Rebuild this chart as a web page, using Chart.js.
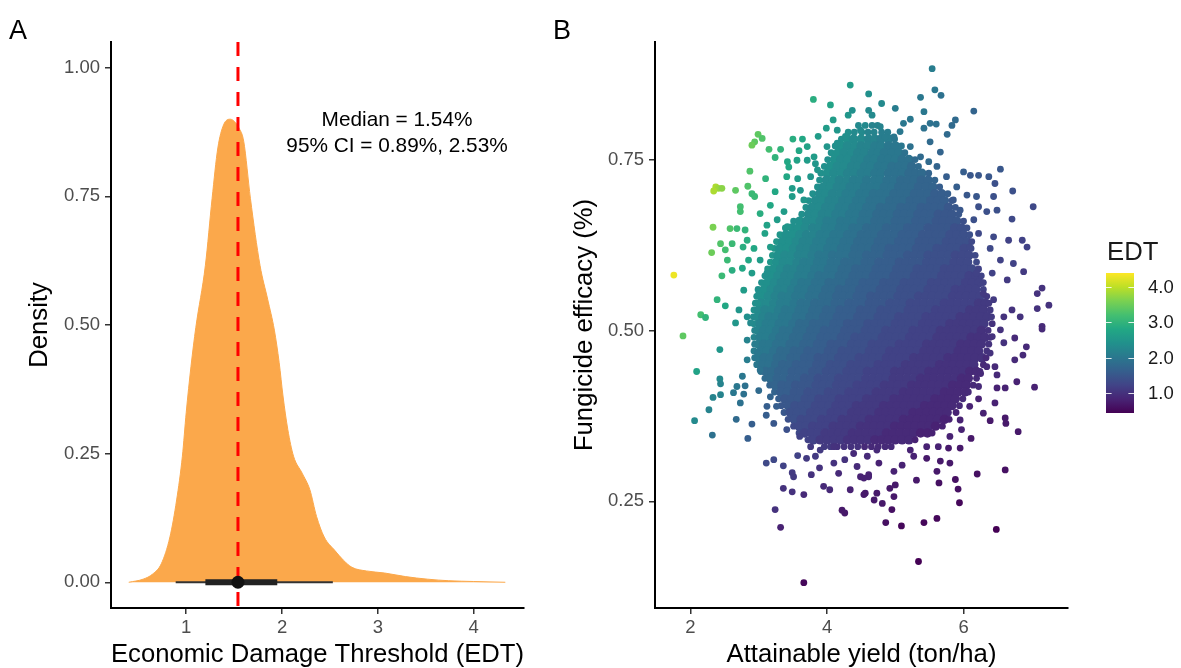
<!DOCTYPE html>
<html>
<head>
<meta charset="utf-8">
<script src="https://cdn.jsdelivr.net/npm/chart.js@4.4.1/dist/chart.umd.min.js"></script>
<style>
html, body { margin: 0; padding: 0; background: #fff; }
#wrap { position: relative; width: 1181px; height: 668px; overflow: hidden; }
.panel { position: absolute; top: 0; height: 668px; }
#pa { left: 0; width: 545px; }
#pb { left: 545px; width: 636px; }
</style>
</head>
<body>
<div id="wrap">
  <div class="panel" id="pa"><canvas id="ca"></canvas></div>
  <div class="panel" id="pb"><canvas id="cb"></canvas></div>
</div>
<script>
// ---- panel A : density of the EDT ----
const densX = [0.40, 0.55, 0.65, 0.74, 0.83, 0.90, 0.96, 1.00, 1.05, 1.10, 1.20, 1.27, 1.33, 1.39, 1.46, 1.50, 1.55, 1.60, 1.67, 1.77,
               1.85, 1.92, 1.97, 2.01, 2.06, 2.12, 2.21, 2.29, 2.36, 2.44, 2.55, 2.64, 2.73, 2.88, 3.07, 3.29, 3.52, 3.74, 4.00, 4.33];
const densY = [0.000, 0.006, 0.016, 0.036, 0.088, 0.160, 0.245, 0.330, 0.420, 0.495, 0.616, 0.746, 0.844, 0.889, 0.900, 0.896, 0.883, 0.857, 0.746, 0.616,
               0.550, 0.490, 0.427, 0.362, 0.297, 0.245, 0.212, 0.180, 0.128, 0.088, 0.062, 0.043, 0.029, 0.022, 0.018, 0.011, 0.006, 0.003, 0.0015, 0.000];
const edtMedian = 1.54;
const ci95 = [0.89, 2.53];
const ci66 = [1.20, 1.95];
const annLines = ['Median = 1.54%', '95% CI = 0.89%, 2.53%'];
const annX = 3.2;
const annY = [0.898, 0.847];
const xTicksA = [1, 2, 3, 4];
const yTicksA = [0, 0.25, 0.5, 0.75, 1];

// ---- panel B : yield vs efficacy, coloured by EDT ----
const xTicksB = [2, 4, 6];
const yTicksB = [0.25, 0.5, 0.75];
const legendTicks = [1, 2, 3, 4];
const edtRange = [0.43, 4.40];

// dense core, read row by row: [efficacy, yields, EDT]
const coreRows = [
  [0.80, '4.46 4.56 4.66 4.74', '2.3 2.3 2.2 2.2'],
  [0.79, '4.31 4.40 4.51 4.60 4.69 4.80 4.89', '2.4 2.3 2.3 2.2 2.2 2.1 2.1'],
  [0.78, '4.21 4.30 4.39 4.50 4.61 4.70 4.79 4.90 4.99', '2.4 2.4 2.3 2.3 2.2 2.2 2.1 2.1 2.0'],
  [0.77, '4.12 4.21 4.30 4.41 4.50 4.59 4.70 4.79 4.90 5.00 5.09', '2.4 2.4 2.3 2.3 2.2 2.2 2.1 2.1 2.0 2.0 2.0'],
  [0.76, '4.06 4.16 4.25 4.36 4.45 4.55 4.66 4.75 4.84 4.95 5.05 5.14', '2.4 2.4 2.3 2.3 2.2 2.2 2.1 2.1 2.0 2.0 2.0 1.9'],
  [0.75, '4.01 4.11 4.20 4.30 4.41 4.50 4.60 4.69 4.80 4.90 5.00 5.10 5.20 5.29', '2.4 2.4 2.3 2.3 2.2 2.2 2.1 2.1 2.0 2.0 2.0 1.9 1.9 1.8'],
  [0.74, '3.96 4.05 4.15 4.25 4.36 4.45 4.55 4.64 4.75 4.85 4.95 5.05 5.15 5.24 5.34', '2.4 2.4 2.3 2.3 2.2 2.2 2.1 2.1 2.0 2.0 1.9 1.9 1.9 1.8 1.8'],
  [0.73, '3.91 4.00 4.10 4.21 4.30 4.40 4.50 4.60 4.70 4.79 4.90 5.00 5.10 5.20 5.30 5.39 5.49', '2.4 2.4 2.3 2.3 2.2 2.2 2.1 2.1 2.0 2.0 1.9 1.9 1.9 1.8 1.8 1.8 1.7'],
  [0.72, '3.89 3.99 4.09 4.18 4.29 4.39 4.48 4.58 4.69 4.78 4.88 4.98 5.08 5.18 5.28 5.38 5.48 5.58', '2.4 2.3 2.3 2.2 2.2 2.1 2.1 2.0 2.0 2.0 1.9 1.9 1.8 1.8 1.8 1.7 1.7 1.7'],
  [0.71, '3.86 3.95 4.05 4.15 4.25 4.34 4.45 4.55 4.64 4.74 4.84 4.95 5.05 5.14 5.24 5.34 5.45 5.55 5.65', '2.4 2.3 2.3 2.2 2.2 2.1 2.1 2.0 2.0 2.0 1.9 1.9 1.8 1.8 1.8 1.7 1.7 1.7 1.6'],
  [0.70, '3.79 3.89 3.98 4.08 4.19 4.28 4.38 4.48 4.58 4.68 4.78 4.88 4.98 5.08 5.18 5.28 5.38 5.48 5.58 5.68 5.77', '2.4 2.3 2.3 2.2 2.2 2.1 2.1 2.0 2.0 1.9 1.9 1.9 1.8 1.8 1.8 1.7 1.7 1.7 1.6 1.6 1.6'],
  [0.69, '3.73 3.83 3.93 4.03 4.13 4.23 4.32 4.43 4.53 4.63 4.72 4.83 4.92 5.02 5.12 5.22 5.32 5.42 5.52 5.62 5.72 5.83', '2.4 2.3 2.3 2.2 2.2 2.1 2.1 2.0 2.0 1.9 1.9 1.9 1.8 1.8 1.8 1.7 1.7 1.7 1.6 1.6 1.6 1.5'],
  [0.68, '3.69 3.78 3.88 3.98 4.08 4.18 4.28 4.38 4.48 4.58 4.68 4.78 4.88 4.98 5.08 5.18 5.28 5.38 5.48 5.58 5.68 5.78 5.88', '2.4 2.3 2.3 2.2 2.2 2.1 2.1 2.0 2.0 1.9 1.9 1.8 1.8 1.8 1.7 1.7 1.7 1.6 1.6 1.6 1.6 1.5 1.5'],
  [0.67, '3.63 3.73 3.83 3.93 4.03 4.13 4.23 4.33 4.43 4.53 4.63 4.73 4.83 4.93 5.03 5.13 5.23 5.33 5.43 5.53 5.63 5.73 5.83 5.93', '2.4 2.3 2.3 2.2 2.2 2.1 2.1 2.0 2.0 1.9 1.9 1.8 1.8 1.8 1.7 1.7 1.7 1.6 1.6 1.6 1.5 1.5 1.5 1.5'],
  [0.66, '3.51 3.60 3.70 3.80 3.90 4.00 4.10 4.20 4.30 4.40 4.50 4.60 4.70 4.80 4.90 5.00 5.10 5.20 5.30 5.40 5.50 5.60 5.70 5.80 5.90 6.00', '2.4 2.4 2.3 2.3 2.2 2.1 2.1 2.0 2.0 2.0 1.9 1.9 1.8 1.8 1.8 1.7 1.7 1.7 1.6 1.6 1.6 1.5 1.5 1.5 1.5 1.4'],
  [0.65, '3.39 3.49 3.58 3.68 3.79 3.88 3.98 4.08 4.18 4.28 4.38 4.47 4.58 4.68 4.78 4.87 4.98 5.08 5.18 5.28 5.37 5.48 5.58 5.68 5.78 5.87 5.97 6.05', '2.5 2.4 2.4 2.3 2.2 2.2 2.1 2.1 2.0 2.0 1.9 1.9 1.8 1.8 1.8 1.7 1.7 1.7 1.6 1.6 1.6 1.5 1.5 1.5 1.5 1.4 1.4 1.4'],
  [0.64, '3.31 3.40 3.50 3.60 3.70 3.80 3.90 4.00 4.10 4.20 4.30 4.40 4.50 4.60 4.70 4.80 4.90 5.00 5.10 5.20 5.30 5.40 5.50 5.60 5.70 5.80 5.90 6.00 6.09', '2.5 2.4 2.4 2.3 2.2 2.2 2.1 2.1 2.0 2.0 1.9 1.9 1.8 1.8 1.8 1.7 1.7 1.7 1.6 1.6 1.6 1.5 1.5 1.5 1.5 1.4 1.4 1.4 1.4'],
  [0.63, '3.26 3.35 3.45 3.55 3.65 3.75 3.85 3.95 4.05 4.15 4.25 4.35 4.45 4.55 4.65 4.75 4.85 4.95 5.05 5.15 5.25 5.35 5.45 5.55 5.65 5.75 5.85 5.95 6.05 6.12', '2.5 2.4 2.4 2.3 2.2 2.2 2.1 2.1 2.0 2.0 1.9 1.9 1.8 1.8 1.8 1.7 1.7 1.7 1.6 1.6 1.6 1.5 1.5 1.5 1.5 1.4 1.4 1.4 1.4 1.3'],
  [0.62, '3.23 3.31 3.41 3.51 3.61 3.71 3.81 3.91 4.01 4.11 4.21 4.31 4.41 4.51 4.61 4.71 4.81 4.91 5.01 5.11 5.21 5.31 5.41 5.51 5.61 5.71 5.81 5.91 6.01 6.11', '2.5 2.4 2.4 2.3 2.2 2.2 2.1 2.1 2.0 2.0 1.9 1.9 1.8 1.8 1.8 1.7 1.7 1.6 1.6 1.6 1.6 1.5 1.5 1.5 1.4 1.4 1.4 1.4 1.3 1.3'],
  [0.61, '3.20 3.28 3.38 3.48 3.58 3.68 3.78 3.88 3.98 4.08 4.18 4.28 4.38 4.48 4.58 4.68 4.78 4.88 4.98 5.08 5.18 5.28 5.38 5.48 5.58 5.68 5.78 5.88 5.98 6.08 6.17', '2.5 2.4 2.3 2.3 2.2 2.2 2.1 2.0 2.0 1.9 1.9 1.9 1.8 1.8 1.7 1.7 1.7 1.6 1.6 1.6 1.5 1.5 1.5 1.4 1.4 1.4 1.4 1.3 1.3 1.3 1.3'],
  [0.60, '3.17 3.26 3.36 3.46 3.56 3.66 3.76 3.86 3.96 4.06 4.16 4.26 4.36 4.46 4.56 4.66 4.76 4.86 4.96 5.06 5.16 5.26 5.36 5.46 5.56 5.66 5.76 5.86 5.96 6.06 6.19', '2.5 2.4 2.3 2.3 2.2 2.1 2.1 2.0 2.0 1.9 1.9 1.8 1.8 1.8 1.7 1.7 1.6 1.6 1.6 1.5 1.5 1.5 1.5 1.4 1.4 1.4 1.4 1.3 1.3 1.3 1.3'],
  [0.59, '3.13 3.22 3.32 3.42 3.52 3.62 3.72 3.82 3.92 4.02 4.12 4.22 4.32 4.42 4.52 4.62 4.72 4.82 4.92 5.02 5.12 5.22 5.32 5.42 5.52 5.62 5.72 5.82 5.92 6.02 6.12 6.22', '2.5 2.4 2.3 2.2 2.2 2.1 2.1 2.0 2.0 1.9 1.9 1.8 1.8 1.7 1.7 1.7 1.6 1.6 1.6 1.5 1.5 1.5 1.4 1.4 1.4 1.4 1.3 1.3 1.3 1.3 1.3 1.2'],
  [0.58, '3.09 3.18 3.28 3.38 3.48 3.58 3.68 3.78 3.88 3.98 4.08 4.18 4.28 4.38 4.48 4.58 4.68 4.78 4.88 4.98 5.08 5.18 5.28 5.38 5.48 5.58 5.68 5.78 5.88 5.98 6.08 6.18 6.26', '2.4 2.4 2.3 2.2 2.2 2.1 2.1 2.0 1.9 1.9 1.9 1.8 1.8 1.7 1.7 1.7 1.6 1.6 1.6 1.5 1.5 1.5 1.4 1.4 1.4 1.4 1.3 1.3 1.3 1.3 1.2 1.2 1.2'],
  [0.57, '3.04 3.13 3.23 3.33 3.43 3.53 3.63 3.73 3.83 3.93 4.03 4.13 4.23 4.33 4.43 4.53 4.63 4.73 4.83 4.93 5.03 5.13 5.23 5.33 5.43 5.53 5.63 5.73 5.83 5.93 6.03 6.13 6.23 6.29', '2.4 2.4 2.3 2.2 2.2 2.1 2.0 2.0 1.9 1.9 1.8 1.8 1.8 1.7 1.7 1.6 1.6 1.6 1.5 1.5 1.5 1.4 1.4 1.4 1.4 1.3 1.3 1.3 1.3 1.3 1.2 1.2 1.2 1.2'],
  [0.56, '2.99 3.08 3.18 3.28 3.38 3.48 3.58 3.68 3.78 3.88 3.98 4.08 4.18 4.28 4.38 4.48 4.58 4.68 4.78 4.88 4.98 5.08 5.18 5.28 5.38 5.48 5.58 5.68 5.78 5.88 5.98 6.08 6.18 6.29', '2.4 2.4 2.3 2.2 2.2 2.1 2.0 2.0 1.9 1.9 1.8 1.8 1.7 1.7 1.7 1.6 1.6 1.6 1.5 1.5 1.5 1.4 1.4 1.4 1.4 1.3 1.3 1.3 1.3 1.2 1.2 1.2 1.2 1.2'],
  [0.55, '2.97 3.04 3.14 3.24 3.34 3.44 3.54 3.64 3.74 3.84 3.94 4.04 4.14 4.24 4.34 4.44 4.54 4.64 4.74 4.84 4.94 5.04 5.14 5.24 5.34 5.44 5.54 5.64 5.74 5.84 5.94 6.04 6.14 6.24 6.34', '2.4 2.4 2.3 2.2 2.1 2.1 2.0 2.0 1.9 1.9 1.8 1.8 1.7 1.7 1.7 1.6 1.6 1.5 1.5 1.5 1.5 1.4 1.4 1.4 1.3 1.3 1.3 1.3 1.3 1.2 1.2 1.2 1.2 1.2 1.1'],
  [0.54, '2.95 3.03 3.12 3.22 3.32 3.42 3.52 3.62 3.72 3.82 3.92 4.02 4.12 4.22 4.32 4.42 4.52 4.62 4.72 4.82 4.92 5.02 5.12 5.22 5.32 5.42 5.52 5.62 5.72 5.82 5.92 6.02 6.12 6.22 6.32 6.37', '2.4 2.3 2.3 2.2 2.1 2.1 2.0 1.9 1.9 1.8 1.8 1.8 1.7 1.7 1.6 1.6 1.6 1.5 1.5 1.5 1.4 1.4 1.4 1.3 1.3 1.3 1.3 1.3 1.2 1.2 1.2 1.2 1.2 1.1 1.1 1.1'],
  [0.53, '2.93 3.00 3.09 3.19 3.29 3.39 3.49 3.59 3.69 3.79 3.89 3.99 4.09 4.19 4.29 4.39 4.49 4.59 4.69 4.79 4.89 4.99 5.09 5.19 5.29 5.39 5.49 5.59 5.69 5.79 5.89 5.99 6.09 6.19 6.29 6.39', '2.4 2.3 2.2 2.2 2.1 2.0 2.0 1.9 1.9 1.8 1.8 1.7 1.7 1.6 1.6 1.6 1.5 1.5 1.5 1.4 1.4 1.4 1.4 1.3 1.3 1.3 1.3 1.2 1.2 1.2 1.2 1.2 1.1 1.1 1.1 1.1'],
  [0.52, '2.92 2.98 3.06 3.15 3.25 3.35 3.45 3.55 3.65 3.75 3.85 3.95 4.05 4.15 4.25 4.35 4.45 4.55 4.65 4.75 4.85 4.95 5.05 5.15 5.25 5.35 5.45 5.55 5.65 5.75 5.85 5.95 6.05 6.15 6.25 6.35 6.41', '2.3 2.3 2.2 2.1 2.1 2.0 2.0 1.9 1.9 1.8 1.8 1.7 1.7 1.6 1.6 1.6 1.5 1.5 1.5 1.4 1.4 1.4 1.3 1.3 1.3 1.3 1.2 1.2 1.2 1.2 1.2 1.1 1.1 1.1 1.1 1.1 1.1'],
  [0.51, '2.93 3.02 3.11 3.20 3.30 3.40 3.50 3.60 3.70 3.80 3.90 4.00 4.10 4.20 4.30 4.40 4.50 4.60 4.70 4.80 4.90 5.00 5.10 5.20 5.30 5.40 5.50 5.60 5.70 5.80 5.90 6.00 6.10 6.20 6.30 6.42', '2.3 2.2 2.1 2.1 2.0 2.0 1.9 1.8 1.8 1.7 1.7 1.7 1.6 1.6 1.5 1.5 1.5 1.4 1.4 1.4 1.4 1.3 1.3 1.3 1.3 1.2 1.2 1.2 1.2 1.1 1.1 1.1 1.1 1.1 1.1 1.0'],
  [0.50, '2.94 2.99 3.07 3.16 3.26 3.36 3.46 3.56 3.66 3.76 3.86 3.96 4.06 4.16 4.26 4.36 4.46 4.56 4.66 4.76 4.86 4.96 5.06 5.16 5.26 5.36 5.46 5.56 5.66 5.76 5.86 5.96 6.06 6.16 6.26 6.36', '2.2 2.2 2.1 2.1 2.0 1.9 1.9 1.8 1.8 1.7 1.7 1.6 1.6 1.6 1.5 1.5 1.5 1.4 1.4 1.4 1.3 1.3 1.3 1.3 1.2 1.2 1.2 1.2 1.1 1.1 1.1 1.1 1.1 1.1 1.0 1.0'],
  [0.49, '2.93 3.02 3.11 3.21 3.31 3.41 3.51 3.61 3.71 3.81 3.91 4.01 4.11 4.21 4.31 4.41 4.51 4.61 4.71 4.81 4.91 5.01 5.11 5.21 5.31 5.41 5.51 5.61 5.71 5.81 5.91 6.01 6.11 6.21 6.31 6.39', '2.2 2.1 2.1 2.0 1.9 1.9 1.8 1.8 1.7 1.7 1.6 1.6 1.6 1.5 1.5 1.4 1.4 1.4 1.4 1.3 1.3 1.3 1.3 1.2 1.2 1.2 1.2 1.1 1.1 1.1 1.1 1.1 1.0 1.0 1.0 1.0'],
  [0.48, '2.94 3.00 3.07 3.16 3.26 3.36 3.46 3.56 3.66 3.76 3.86 3.96 4.06 4.16 4.26 4.36 4.46 4.56 4.66 4.76 4.86 4.96 5.06 5.16 5.26 5.36 5.46 5.56 5.66 5.76 5.86 5.96 6.06 6.16 6.26 6.37', '2.1 2.1 2.0 2.0 1.9 1.9 1.8 1.8 1.7 1.7 1.6 1.6 1.5 1.5 1.5 1.4 1.4 1.4 1.3 1.3 1.3 1.3 1.2 1.2 1.2 1.2 1.1 1.1 1.1 1.1 1.1 1.0 1.0 1.0 1.0 1.0'],
  [0.47, '2.93 3.03 3.12 3.22 3.32 3.42 3.52 3.62 3.72 3.82 3.92 4.02 4.12 4.22 4.32 4.42 4.52 4.62 4.72 4.82 4.92 5.02 5.12 5.22 5.32 5.42 5.52 5.62 5.72 5.82 5.92 6.02 6.12 6.22 6.34', '2.1 2.0 2.0 1.9 1.8 1.8 1.7 1.7 1.6 1.6 1.6 1.5 1.5 1.4 1.4 1.4 1.4 1.3 1.3 1.3 1.2 1.2 1.2 1.2 1.2 1.1 1.1 1.1 1.1 1.1 1.0 1.0 1.0 1.0 1.0'],
  [0.46, '2.94 3.00 3.08 3.17 3.27 3.37 3.47 3.57 3.67 3.77 3.87 3.97 4.07 4.17 4.27 4.37 4.47 4.57 4.67 4.77 4.87 4.97 5.07 5.17 5.27 5.37 5.47 5.57 5.67 5.77 5.87 5.97 6.07 6.17 6.27 6.33', '2.0 2.0 1.9 1.9 1.8 1.8 1.7 1.7 1.6 1.6 1.5 1.5 1.5 1.4 1.4 1.4 1.3 1.3 1.3 1.3 1.2 1.2 1.2 1.2 1.1 1.1 1.1 1.1 1.1 1.0 1.0 1.0 1.0 1.0 1.0 0.9'],
  [0.45, '2.97 3.06 3.15 3.25 3.35 3.45 3.55 3.65 3.75 3.85 3.95 4.05 4.15 4.25 4.35 4.45 4.55 4.65 4.75 4.85 4.95 5.05 5.15 5.25 5.35 5.45 5.55 5.65 5.75 5.85 5.95 6.05 6.15 6.29', '2.0 1.9 1.9 1.8 1.7 1.7 1.6 1.6 1.6 1.5 1.5 1.4 1.4 1.4 1.3 1.3 1.3 1.3 1.2 1.2 1.2 1.2 1.1 1.1 1.1 1.1 1.1 1.0 1.0 1.0 1.0 1.0 1.0 0.9'],
  [0.44, '3.03 3.10 3.19 3.29 3.39 3.49 3.59 3.69 3.79 3.89 3.99 4.09 4.19 4.29 4.39 4.49 4.59 4.69 4.79 4.89 4.99 5.09 5.19 5.29 5.39 5.49 5.59 5.69 5.79 5.89 5.99 6.09 6.19 6.24', '1.9 1.8 1.8 1.7 1.7 1.6 1.6 1.6 1.5 1.5 1.4 1.4 1.4 1.3 1.3 1.3 1.2 1.2 1.2 1.2 1.1 1.1 1.1 1.1 1.1 1.0 1.0 1.0 1.0 1.0 1.0 0.9 0.9 0.9'],
  [0.43, '3.09 3.17 3.27 3.37 3.47 3.57 3.67 3.77 3.87 3.97 4.07 4.17 4.27 4.37 4.47 4.57 4.67 4.77 4.87 4.97 5.07 5.17 5.27 5.37 5.47 5.57 5.67 5.77 5.87 5.97 6.07 6.19', '1.8 1.8 1.7 1.7 1.6 1.6 1.5 1.5 1.4 1.4 1.4 1.3 1.3 1.3 1.3 1.2 1.2 1.2 1.2 1.1 1.1 1.1 1.1 1.0 1.0 1.0 1.0 1.0 1.0 0.9 0.9 0.9'],
  [0.42, '3.16 3.24 3.34 3.44 3.54 3.64 3.74 3.84 3.94 4.04 4.14 4.24 4.34 4.44 4.54 4.64 4.74 4.84 4.94 5.04 5.14 5.24 5.34 5.44 5.54 5.64 5.74 5.84 5.94 6.04 6.14', '1.7 1.7 1.6 1.6 1.5 1.5 1.5 1.4 1.4 1.4 1.3 1.3 1.3 1.2 1.2 1.2 1.2 1.1 1.1 1.1 1.1 1.0 1.0 1.0 1.0 1.0 1.0 0.9 0.9 0.9 0.9'],
  [0.41, '3.23 3.32 3.42 3.52 3.62 3.72 3.82 3.92 4.02 4.12 4.22 4.32 4.42 4.52 4.62 4.72 4.82 4.92 5.02 5.12 5.22 5.32 5.42 5.52 5.62 5.72 5.82 5.92 6.02 6.07', '1.7 1.6 1.6 1.5 1.5 1.4 1.4 1.4 1.3 1.3 1.3 1.2 1.2 1.2 1.2 1.1 1.1 1.1 1.1 1.0 1.0 1.0 1.0 1.0 1.0 0.9 0.9 0.9 0.9 0.9'],
  [0.40, '3.29 3.38 3.48 3.58 3.68 3.78 3.88 3.98 4.08 4.18 4.28 4.38 4.48 4.58 4.68 4.78 4.88 4.98 5.08 5.18 5.28 5.38 5.48 5.58 5.68 5.78 5.88 5.99', '1.6 1.5 1.5 1.5 1.4 1.4 1.3 1.3 1.3 1.2 1.2 1.2 1.2 1.1 1.1 1.1 1.1 1.0 1.0 1.0 1.0 1.0 1.0 0.9 0.9 0.9 0.9 0.9'],
  [0.39, '3.33 3.43 3.53 3.63 3.73 3.83 3.93 4.03 4.13 4.23 4.33 4.43 4.53 4.63 4.73 4.83 4.93 5.03 5.13 5.23 5.33 5.43 5.53 5.63 5.73 5.83 5.94', '1.5 1.5 1.4 1.4 1.4 1.3 1.3 1.3 1.2 1.2 1.2 1.1 1.1 1.1 1.1 1.0 1.0 1.0 1.0 1.0 1.0 0.9 0.9 0.9 0.9 0.9 0.9'],
  [0.38, '3.37 3.46 3.56 3.66 3.76 3.86 3.96 4.06 4.16 4.26 4.36 4.46 4.56 4.66 4.76 4.86 4.96 5.06 5.16 5.26 5.36 5.46 5.56 5.66 5.76 5.89', '1.5 1.4 1.4 1.4 1.3 1.3 1.3 1.2 1.2 1.2 1.1 1.1 1.1 1.1 1.0 1.0 1.0 1.0 1.0 0.9 0.9 0.9 0.9 0.9 0.9 0.8'],
  [0.37, '3.43 3.52 3.62 3.72 3.82 3.92 4.02 4.12 4.22 4.32 4.42 4.52 4.62 4.72 4.82 4.92 5.02 5.12 5.22 5.32 5.42 5.52 5.62 5.72 5.79', '1.4 1.4 1.3 1.3 1.3 1.2 1.2 1.2 1.1 1.1 1.1 1.1 1.0 1.0 1.0 1.0 1.0 0.9 0.9 0.9 0.9 0.9 0.9 0.8 0.8'],
  [0.36, '3.51 3.59 3.69 3.79 3.89 3.99 4.09 4.19 4.29 4.39 4.49 4.59 4.69 4.79 4.89 4.99 5.09 5.19 5.29 5.39 5.49 5.59 5.69', '1.3 1.3 1.3 1.2 1.2 1.2 1.1 1.1 1.1 1.1 1.0 1.0 1.0 1.0 1.0 0.9 0.9 0.9 0.9 0.9 0.9 0.8 0.8'],
  [0.35, '3.59 3.67 3.77 3.87 3.97 4.07 4.17 4.27 4.37 4.47 4.57 4.67 4.77 4.87 4.97 5.07 5.17 5.27 5.37 5.47 5.54', '1.3 1.2 1.2 1.2 1.1 1.1 1.1 1.1 1.0 1.0 1.0 1.0 1.0 0.9 0.9 0.9 0.9 0.9 0.8 0.8 0.8'],
  [0.34, '3.72 3.80 3.90 4.00 4.10 4.20 4.30 4.40 4.50 4.60 4.70 4.80 4.90 5.00 5.10 5.20 5.29', '1.2 1.2 1.1 1.1 1.1 1.1 1.0 1.0 1.0 1.0 0.9 0.9 0.9 0.9 0.9 0.9 0.8'],
  [0.33, '3.96 4.05 4.15 4.25 4.35 4.45 4.55 4.65 4.75 4.85 4.94', '1.1 1.1 1.0 1.0 1.0 1.0 0.9 0.9 0.9 0.9 0.9']
];

// ragged edge of the core: [yield, efficacy, EDT]
const fringePoints = [
  [3.71,0.749,2.6],[3.86,0.735,2.5],[3.76,0.725,2.5],[4.00,0.769,2.5],[4.15,0.774,2.4],[4.27,0.784,2.4],[4.49,0.793,2.3],
  [3.49,0.696,2.6],[3.66,0.691,2.5],[3.27,0.662,2.6],[3.42,0.652,2.5],[3.17,0.622,2.6],[3.02,0.603,2.6],[3.12,0.584,2.4],
  [2.98,0.540,2.4],[2.88,0.511,2.3],[5.22,0.769,1.9],[5.37,0.754,1.8],[5.61,0.740,1.7],[5.75,0.725,1.6],[5.85,0.691,1.5],
  [6.00,0.642,1.4],[6.09,0.622,1.3],[6.19,0.584,1.2],[6.29,0.554,1.1],[4.98,0.783,2.0],[4.78,0.798,2.2],[2.83,0.486,2.2],
  [2.98,0.467,2.0],[2.83,0.457,2.1],[3.02,0.442,1.9],[3.17,0.403,1.7],[3.26,0.389,1.6],[3.41,0.355,1.4],[3.60,0.345,1.2],
  [3.76,0.330,1.1],[3.90,0.325,1.1],[4.10,0.330,1.0],[4.39,0.320,0.9],[5.22,0.325,0.8],[5.46,0.330,0.8],[4.73,0.325,0.9],
  [5.95,0.369,0.8],[6.09,0.389,0.8],[6.25,0.437,0.9],[6.42,0.491,1.0],[6.54,0.501,1.0]
];

// scattered points outside the core: [yield, efficacy, EDT]
const sparsePoints = [
  [4.34,0.859,2.6],[3.80,0.838,2.9],[4.05,0.830,2.7],[4.37,0.822,2.4],[4.31,0.815,2.5],[4.09,0.808,2.6],[3.99,0.796,2.6],
  [4.15,0.793,2.5],[3.87,0.784,2.6],[2.99,0.787,3.4],[3.05,0.781,3.3],[2.94,0.776,3.4],[2.90,0.771,3.5],[3.50,0.780,2.9],
  [3.64,0.780,2.8],[3.71,0.769,2.7],[3.59,0.763,2.8],[3.32,0.765,3.0],[3.15,0.765,3.2],[3.24,0.753,3.0],[3.42,0.747,2.8],
  [3.44,0.739,2.8],[3.56,0.749,2.7],[3.81,0.754,2.6],[3.83,0.744,2.5],[3.41,0.725,2.8],[3.57,0.722,2.6],[2.87,0.733,3.3],
  [3.10,0.722,3.0],[2.84,0.711,3.3],[2.37,0.710,3.9],[2.41,0.708,3.8],[2.34,0.704,3.9],[2.46,0.708,3.7],[2.66,0.705,3.4],
  [3.24,0.703,2.8],[3.49,0.708,2.6],[3.61,0.705,2.5],[2.90,0.700,3.1],[2.94,0.696,3.1],[2.73,0.681,3.2],[2.73,0.674,3.2],
  [3.17,0.683,2.8],[3.37,0.674,2.6],[3.02,0.671,2.9],[2.33,0.651,3.6],[2.58,0.649,3.3],[2.68,0.649,3.1],[2.80,0.647,3.0],
  [3.12,0.654,2.7],[3.09,0.642,2.7],[2.44,0.627,3.3],[2.61,0.627,3.1],[2.83,0.632,2.9],[2.31,0.614,3.5],[2.51,0.618,3.2],
  [2.54,0.603,3.1],[2.77,0.622,2.9],[2.93,0.620,2.8],[2.85,0.603,2.8],[1.756,0.581,4.3],[2.46,0.580,3.1],[2.61,0.588,2.9],
  [2.76,0.591,2.8],[2.90,0.584,2.6],[2.78,0.559,2.6],[3.00,0.554,2.4],[2.39,0.545,3.0],[2.51,0.536,2.8],[2.15,0.523,3.2],
  [2.22,0.519,3.0],[2.71,0.530,2.5],[2.83,0.520,2.4],[2.66,0.511,2.5],
  [5.54,0.883,2.1],[5.58,0.852,2.0],[5.67,0.844,1.9],[4.61,0.846,2.4],[5.37,0.841,2.0],[6.15,0.821,1.7],[4.80,0.832,2.3],
  [5.00,0.825,2.1],[4.61,0.822,2.3],[5.42,0.820,2.0],[4.66,0.815,2.3],[5.22,0.809,2.0],[5.12,0.803,2.0],[5.51,0.803,1.9],
  [5.60,0.802,1.9],[5.88,0.808,1.8],[5.83,0.800,1.8],[5.42,0.796,1.9],[5.76,0.787,1.8],[4.85,0.783,2.1],[5.07,0.791,2.0],
  [5.51,0.776,1.8],[5.66,0.761,1.7],[5.49,0.747,1.8],[6.00,0.732,1.6],[6.10,0.727,1.5],[6.54,0.736,1.5],[6.22,0.727,1.5],
  [6.37,0.725,1.5],[6.46,0.715,1.4],[5.90,0.710,1.6],[6.05,0.698,1.5],[6.19,0.696,1.5],[6.44,0.696,1.4],[6.72,0.704,1.4],
  [6.22,0.681,1.4],[6.34,0.674,1.4],[6.49,0.676,1.4],[6.71,0.663,1.3],[7.02,0.681,1.3],[5.95,0.676,1.5],[6.15,0.662,1.4],
  [6.22,0.642,1.3],[6.44,0.637,1.3],[6.66,0.632,1.2],[6.86,0.632,1.2],[6.93,0.622,1.2],[6.39,0.620,1.3],[6.54,0.603,1.2],
  [6.73,0.598,1.2],[6.88,0.586,1.1],[6.42,0.584,1.2],[6.64,0.574,1.1],[7.15,0.562,1.0],[7.08,0.554,1.0],[7.25,0.537,1.0],
  [7.08,0.532,1.0],[6.44,0.545,1.1],[6.71,0.530,1.0],[6.59,0.520,1.0],[6.83,0.520,1.0],[7.15,0.506,0.9],
  [1.89,0.492,3.4],[2.43,0.472,2.5],[2.09,0.440,2.7],[2.43,0.429,2.3],[2.44,0.422,2.2],[2.76,0.433,2.0],[2.68,0.418,2.0],
  [2.80,0.419,1.9],[2.63,0.409,2.0],[2.33,0.402,2.2],[2.44,0.406,2.2],[2.78,0.407,1.9],[2.73,0.394,1.9],[2.27,0.384,2.2],
  [2.06,0.368,2.3],[2.67,0.370,1.8],[2.90,0.363,1.6],[2.32,0.347,1.9],[2.84,0.342,1.6],[3.00,0.412,1.8],[3.12,0.389,1.6],
  [3.11,0.376,1.6],[3.22,0.364,1.5],[3.11,0.306,1.3],[3.22,0.311,1.3],[3.36,0.302,1.2],[3.57,0.317,1.2],[3.70,0.313,1.1],
  [3.83,0.316,1.1],[3.49,0.292,1.1],[3.51,0.286,1.1],[3.77,0.289,1.0],[3.89,0.299,1.0],[3.95,0.272,0.9],[4.04,0.267,0.9],
  [3.36,0.269,1.0],[3.49,0.264,1.0],[3.66,0.260,0.9],[4.17,0.291,0.9],[4.22,0.237,0.7],[4.26,0.233,0.7],[4.34,0.267,0.8],
  [4.54,0.260,0.7],[3.24,0.238,1.0],[3.32,0.212,0.8],[3.66,0.131,0.5],[4.26,0.311,1.0],[4.10,0.306,1.0],[4.44,0.301,0.9],
  [4.49,0.286,0.8],[4.61,0.289,0.8],
  [7.15,0.502,0.9],[6.92,0.476,0.9],[6.87,0.464,0.9],[6.75,0.457,0.9],[6.59,0.482,1.0],[6.75,0.489,0.9],[6.78,0.425,0.8],
  [7.04,0.417,0.8],[6.49,0.435,0.9],[6.49,0.416,0.8],[6.61,0.416,0.8],[6.46,0.394,0.8],[6.61,0.372,0.7],[6.62,0.364,0.7],
  [6.39,0.368,0.7],[6.29,0.379,0.8],[6.80,0.352,0.7],[6.11,0.342,0.7],[6.61,0.296,0.6],[6.20,0.290,0.6],[5.94,0.248,0.5],
  [5.92,0.268,0.6],[5.88,0.282,0.6],[5.64,0.277,0.6],[5.61,0.294,0.7],[5.31,0.281,0.7],[5.61,0.225,0.5],[5.42,0.219,0.5],
  [5.09,0.214,0.5],[4.86,0.219,0.6],[6.48,0.209,0.4],[5.34,0.162,0.4],[4.95,0.238,0.6],[4.81,0.247,0.7],[4.69,0.252,0.7],
  [4.98,0.257,0.7],[5.00,0.274,0.7],[4.92,0.269,0.7],[4.56,0.262,0.7],[4.73,0.262,0.7],[4.61,0.286,0.8],[4.54,0.284,0.8],
  [5.66,0.309,0.7],[5.80,0.306,0.7],[5.78,0.328,0.7],[5.95,0.328,0.7],[5.46,0.313,0.7],[5.27,0.316,0.8],[5.10,0.303,0.8],
  [4.98,0.294,0.8],[4.76,0.306,0.8],[4.59,0.316,0.9],[5.63,0.330,0.8],[5.80,0.345,0.8],[5.97,0.355,0.8],[6.22,0.400,0.8],
  [6.22,0.418,0.9],[6.46,0.447,0.9],[6.34,0.447,0.9],[6.39,0.467,1.0]
];

const FONT = "'Liberation Sans', Arial, Helvetica, sans-serif";
Chart.defaults.font.family = FONT;

const VIRIDIS = ['#440154', '#482475', '#414487', '#355f8d', '#2a788e', '#21918c',
                 '#22a884', '#44bf70', '#7ad151', '#bddf26', '#fde725'];
const hexRgb = h => [1, 3, 5].map(i => parseInt(h.slice(i, i + 2), 16));
function viridis(e) {
  const t = Math.min(1, Math.max(0, (e - edtRange[0]) / (edtRange[1] - edtRange[0])));
  const f = t * (VIRIDIS.length - 1), i = Math.min(VIRIDIS.length - 2, Math.floor(f)), r = f - i;
  const a = hexRgb(VIRIDIS[i]), b = hexRgb(VIRIDIS[i + 1]);
  return `rgb(${a.map((v, k) => Math.round(v + (b[k] - v) * r)).join(',')})`;
}

// shared ggplot-like axis
function axis(min, max, tickVals, fmt, title, fit, pad) {
  return {
    type: 'linear', min, max,
    afterBuildTicks: s => { s.ticks = tickVals.map(v => ({ value: v })); },
    afterFit: fit,
    ticks: { color: '#4d4d4d', font: { size: 18.5 }, padding: pad, autoSkip: false, maxRotation: 0, callback: fmt },
    grid: { drawOnChartArea: false, drawTicks: true, tickLength: 6, color: '#333333', lineWidth: 1.5 },
    border: { display: true, color: '#000000', width: 2 },
    title: { display: true, text: title, color: '#000000', font: { size: 25.7, lineHeight: 1 }, padding: { top: 4, bottom: 0 } }
  };
}

const panelLabel = (txt, x) => ({
  id: 'panel' + txt,
  afterDraw(chart) {
    const c = chart.ctx;
    c.save();
    c.font = `27px ${FONT}`; c.fillStyle = '#000'; c.textBaseline = 'alphabetic';
    c.fillText(txt, x, 39);
    c.restore();
  }
});

const annotation = {
  id: 'annot',
  afterDatasetsDraw(chart) {
    const { ctx: c, scales: { x, y } } = chart;
    c.save();
    c.font = `20.8px ${FONT}`; c.fillStyle = '#000'; c.textAlign = 'center'; c.textBaseline = 'middle';
    annLines.forEach((t, i) => c.fillText(t, x.getPixelForValue(annX), y.getPixelForValue(annY[i])));
    c.restore();
  }
};

new Chart(document.getElementById('ca'), {
  type: 'line',
  data: {
    datasets: [
      { data: densX.map((x, i) => ({ x, y: densY[i] })), fill: 'origin', backgroundColor: '#fba84b',
        borderColor: '#fba84b', borderWidth: 1, pointRadius: 0, cubicInterpolationMode: 'monotone', order: 5 },
      { data: [{ x: edtMedian, y: 1.05 }, { x: edtMedian, y: -0.05 }], borderColor: '#ff0000', borderWidth: 3,
        borderDash: [14, 11], pointRadius: 0, order: 4 },
      { data: ci95.map(x => ({ x, y: 0 })), borderColor: '#333333', borderWidth: 2, pointRadius: 0, order: 3 },
      { data: ci66.map(x => ({ x, y: 0 })), borderColor: '#222222', borderWidth: 6, pointRadius: 0, order: 2 },
      { type: 'scatter', data: [{ x: edtMedian, y: 0 }], pointRadius: 6.5, backgroundColor: '#111111', borderWidth: 0, order: 1 }
    ]
  },
  options: {
    responsive: true, maintainAspectRatio: false, animation: false, events: [],
    layout: { padding: { left: 23, right: 21, top: 42, bottom: 0 } },
    plugins: { legend: { display: false }, tooltip: { enabled: false } },
    scales: {
      x: axis(0.215, 4.525, xTicksA, v => String(v), 'Economic Damage Threshold (EDT)', s => { s.height = 60; }, 3),
      y: axis(-0.05, 1.05, yTicksA, v => v.toFixed(2), 'Density', s => { s.width = 88; }, 5)
    }
  },
  plugins: [panelLabel('A', 9), annotation]
});

// ---- panel B ----
// inside the overplotted core the marks are drawn a little larger so the mass reads solid;
// the first / last mark of each row and the thin top and bottom rows keep the normal size
const corePoints = [], coreRadius = [];
coreRows.forEach(([y, xs, es], r) => {
  const xv = xs.split(' ').map(Number), ev = es.split(' ').map(Number);
  const thin = r < 2 || r === coreRows.length - 1;
  xv.forEach((x, i) => {
    corePoints.push([x, y, ev[Math.min(i, ev.length - 1)]]);
    coreRadius.push(thin || i === 0 || i === xv.length - 1 ? 3.4 : 4.7);
  });
});
const outerPoints = fringePoints.concat(sparsePoints);

const colorbar = {
  id: 'colorbar',
  afterDraw(chart) {
    const c = chart.ctx;
    const x0 = 561, w = 28, top = 273, bottom = 413;
    const g = c.createLinearGradient(0, bottom, 0, top);
    VIRIDIS.forEach((col, i) => g.addColorStop(i / (VIRIDIS.length - 1), col));
    c.save();
    c.fillStyle = g;
    c.fillRect(x0, top, w, bottom - top);
    const yOf = v => bottom - (v - edtRange[0]) / (edtRange[1] - edtRange[0]) * (bottom - top);
    c.strokeStyle = 'rgba(255,255,255,0.85)'; c.lineWidth = 1;
    c.font = `18.5px ${FONT}`; c.fillStyle = '#1a1a1a'; c.textAlign = 'left'; c.textBaseline = 'middle';
    legendTicks.forEach(v => {
      const y = Math.round(yOf(v)) + 0.5;
      c.beginPath();
      c.moveTo(x0, y); c.lineTo(x0 + w / 5, y);
      c.moveTo(x0 + w - w / 5, y); c.lineTo(x0 + w, y);
      c.stroke();
      c.fillText(v.toFixed(1), 603, y);
    });
    c.font = `25.7px ${FONT}`; c.textBaseline = 'alphabetic';
    c.fillText('EDT', 562, 260);
    c.restore();
  }
};

const toXY = pts => pts.map(p => ({ x: p[0], y: p[1] }));
const colOf = pts => pts.map(p => viridis(p[2]));

new Chart(document.getElementById('cb'), {
  type: 'scatter',
  data: {
    datasets: [
      { data: toXY(outerPoints), pointBackgroundColor: colOf(outerPoints), backgroundColor: colOf(outerPoints),
        pointRadius: 3.4, pointBorderWidth: 0, borderWidth: 0, order: 1 },
      { data: toXY(corePoints), pointBackgroundColor: colOf(corePoints), backgroundColor: colOf(corePoints),
        pointRadius: coreRadius, pointBorderWidth: 0, borderWidth: 0, order: 2 }
    ]
  },
  options: {
    responsive: true, maintainAspectRatio: false, animation: false, events: [],
    layout: { padding: { left: 23, right: 113, top: 42, bottom: 0 } },
    plugins: { legend: { display: false }, tooltip: { enabled: false } },
    scales: {
      x: axis(1.48, 7.53, xTicksB, v => String(v), 'Attainable yield (ton/ha)', s => { s.height = 60; }, 3),
      y: axis(0.094, 0.922, yTicksB, v => v.toFixed(2), 'Fungicide efficacy (%)', s => { s.width = 87; }, 5)
    }
  },
  plugins: [panelLabel('B', 8), colorbar]
});
</script>
</body>
</html>
